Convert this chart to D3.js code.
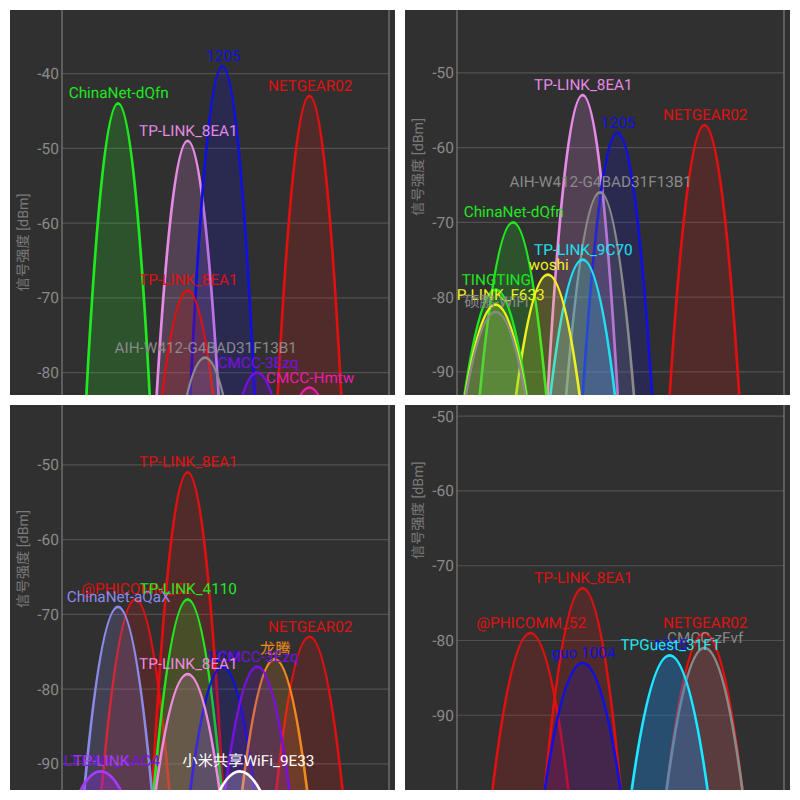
<!DOCTYPE html>
<html>
<head>
<meta charset="utf-8">
<script src="https://cdnjs.cloudflare.com/ajax/libs/d3/7.8.5/d3.min.js"></script>
<style>
  html, body { margin: 0; background: #fff; }
  text { font-family: Roboto, "Noto Sans CJK SC", sans-serif; text-rendering: geometricPrecision; }
</style>
</head>
<body>
<div id="chart"></div>
<script>
// wifi channel scans, one list set per panel
const topLeftNames = ["ChinaNet-dQfn", "TP-LINK_8EA1", "1205", "NETGEAR02", "TP-LINK_8EA1", "AIH-W412-G4BAD31F13B1", "CMCC-3Ezq", "CMCC-Hmtw"];
const topLeftChannels = [1, 5, 7, 12, 5, 6, 9, 12];
const topLeftLevels = [-44, -49, -39, -43, -69, -78, -80, -82];
const topLeftColors = ["#1fe81f", "#e58ae5", "#1010e0", "#e01010", "#e01010", "#8a8a8a", "#7a10e0", "#e81ea8"];

const topRightNames = ["TP-LINK_8EA1", "1205", "NETGEAR02", "AIH-W412-G4BAD31F13B1", "ChinaNet-dQfn", "TP-LINK_9C70", "woshi", "TINGTING", "P-LINK_F633", "硕鹏-WiFi"];
const topRightChannels = [5, 7, 12, 6, 1, 5, 3, 0, 0, 0];
const topRightLevels = [-53, -58, -57, -66, -70, -75, -77, -79, -81, -82];
const topRightColors = ["#e58ae5", "#1010e0", "#e01010", "#8a8a8a", "#1fe81f", "#1fe0f0", "#f0f01f", "#1fe81f", "#f0f01f", "#8a8a8a"];

const bottomLeftNames = ["TP-LINK_8EA1", "@PHICOMM_52", "ChinaNet-aQaX", "TP-LINK_4110", "NETGEAR02", "1205", "龙腾", "CMCC-3Ezq", "TP-LINK_8EA1", "LT-LINK_AAC4", "TP-LINK", "小米共享WiFi_9E33"];
const bottomLeftChannels = [5, 2, 1, 5, 12, 7, 10, 9, 5, 0, 0, 8];
const bottomLeftLevels = [-51, -68, -69, -68, -73, -77, -76, -77, -78, -91, -91, -91];
const bottomLeftColors = ["#e01010", "#e01010", "#8a8ae8", "#1fe81f", "#e01010", "#1010e0", "#f08a1f", "#7a10e0", "#f08ae0", "#7a10e0", "#a33ff0", "#ffffff"];

const bottomRightNames = ["TP-LINK_8EA1", "@PHICOMM_52", "guo 1004", "NETGEAR02", "CMCC-zFvf", "1205", "TPGuest_31F1"];
const bottomRightChannels = [5, 2, 5, 12, 12, 10, 10];
const bottomRightLevels = [-73, -79, -83, -79, -81, -82, -82];
const bottomRightColors = ["#e01010", "#e01010", "#1010e0", "#e01010", "#8a8a8a", "#1010e0", "#1fe8f0"];

const levelTicks = [-40, -50, -60, -70, -80, -90];
const yTitle = "信号强度 [dBm]";
const titleLevel = -62.6; // title sits mid-way on the full axis, the crop cuts the rest
const floorLevel = -100;
const halfBand = 2.18; // curve half width in channels at floor level
// these labels are not centred on their curve in the screenshot
const labelNudge = { "LT-LINK_AAC4": 0.6, "小米共享WiFi_9E33": 0.45, "P-LINK_F633": 0.25 };

const panels = [
  { left: 10, top: 10, levelTop: -31.5, levelBottom: -83, names: topLeftNames, channels: topLeftChannels, levels: topLeftLevels, colors: topLeftColors },
  { left: 405, top: 10, levelTop: -41.6, levelBottom: -93.1, names: topRightNames, channels: topRightChannels, levels: topRightLevels, colors: topRightColors },
  { left: 10, top: 405, levelTop: -42, levelBottom: -93.5, names: bottomLeftNames, channels: bottomLeftChannels, levels: bottomLeftLevels, colors: bottomLeftColors },
  { left: 405, top: 405, levelTop: -48.5, levelBottom: -100, names: bottomRightNames, channels: bottomRightChannels, levels: bottomRightLevels, colors: bottomRightColors },
];

const size = 385;
const margin = { left: 52, right: 6 };

const svg = d3.select("#chart").append("svg").attr("width", 800).attr("height", 800);

panels.forEach((p, i) => {
  const g = svg.append("g").attr("transform", `translate(${p.left},${p.top})`);

  g.append("rect").attr("width", size).attr("height", size).attr("fill", "#303030");

  const clipId = "clip" + i;
  g.append("clipPath").attr("id", clipId).append("rect").attr("width", size).attr("height", size);

  const x = d3.scaleLinear().domain([-2.22, 16.57]).range([margin.left, size - margin.right]);
  const y = d3.scaleLinear().domain([p.levelTop, p.levelBottom]).range([0, size]);

  const ticks = levelTicks.filter((t) => t <= p.levelTop && t >= p.levelBottom);

  const axis = g.append("g")
    .attr("transform", `translate(${margin.left},0)`)
    .call(d3.axisLeft(y).tickValues(ticks).tickSize(0).tickPadding(3).tickFormat((d) => d));
  axis.select(".domain").remove();
  axis.selectAll("text").attr("fill", "#8a8a8a").style("font-size", "15.5px");

  g.append("g").selectAll("line").data(ticks).enter().append("line")
    .attr("x1", x.range()[0])
    .attr("x2", x.range()[1])
    .attr("y1", (d) => y(d))
    .attr("y2", (d) => y(d))
    .attr("stroke", "#505050")
    .attr("stroke-width", 1.2);

  g.append("g").selectAll("line").data(x.range()).enter().append("line")
    .attr("x1", (d) => d)
    .attr("x2", (d) => d)
    .attr("y1", 0)
    .attr("y2", size)
    .attr("stroke", "#7c7c7c")
    .attr("stroke-width", 1.2);

  g.append("text")
    .attr("transform", `translate(14,${y(titleLevel)}) rotate(-90)`)
    .attr("text-anchor", "middle")
    .attr("dominant-baseline", "middle")
    .attr("fill", "#7a7a7a")
    .style("font-size", "14.3px")
    .text(yTitle);

  // exact parabola: control point sits as far above the peak as the floor is below it
  const arc = (j) => {
    const path = d3.path();
    const c = p.channels[j];
    const peak = p.levels[j];
    path.moveTo(x(c - halfBand), y(floorLevel));
    path.quadraticCurveTo(x(c), y(peak + (peak - floorLevel)), x(c + halfBand), y(floorLevel));
    return path.toString();
  };

  const idx = d3.range(p.names.length);

  g.append("g").attr("clip-path", `url(#${clipId})`)
    .selectAll("path").data(idx).enter().append("path")
    .attr("d", arc)
    .attr("fill", (j) => p.colors[j])
    .attr("fill-opacity", 0.19)
    .attr("stroke", (j) => p.colors[j])
    .attr("stroke-width", 2.7);

  g.append("g").selectAll("text").data(idx).enter().append("text")
    .attr("x", (j) => x(p.channels[j] + (labelNudge[p.names[j]] || 0)) + 0.7)
    .attr("y", (j) => y(p.levels[j]) - 5)
    .attr("text-anchor", "middle")
    .attr("fill", (j) => p.colors[j])
    .style("font-size", "15.3px")
    .text((j) => p.names[j]);
});
</script>
</body>
</html>
